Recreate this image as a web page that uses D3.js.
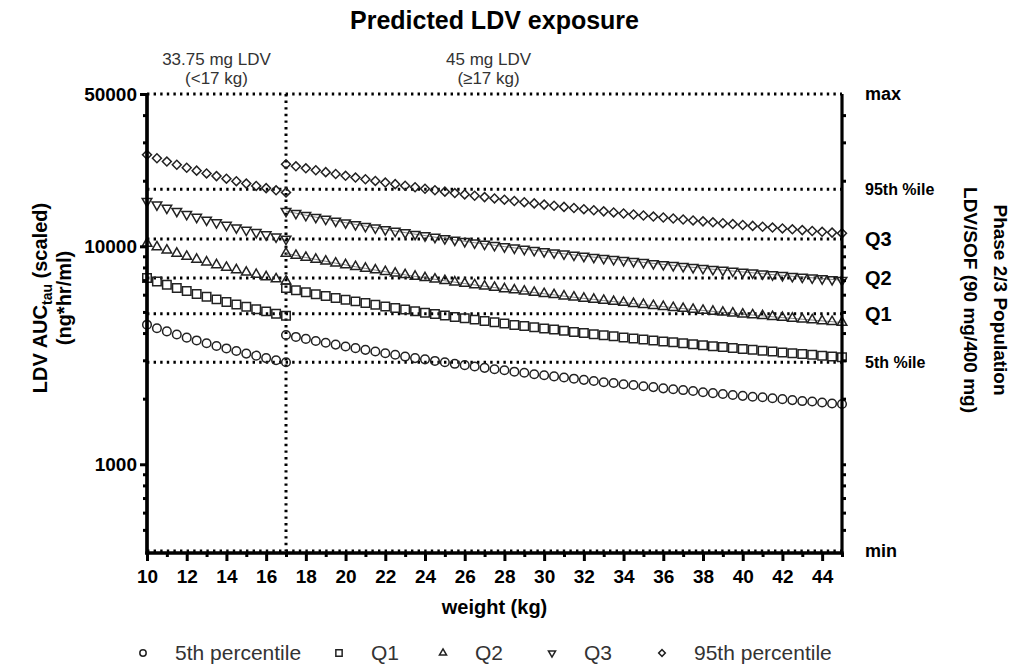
<!DOCTYPE html>
<html>
<head>
<meta charset="utf-8">
<script src="https://cdn.jsdelivr.net/npm/d3@7"></script>
<style>
  body { margin: 0; background: #fff; }
  svg { display: block; font-family: Arial, "Liberation Sans", sans-serif; }
  .axis path, .axis line { stroke: #000; }
  .axis text { font-size: 19px; font-weight: bold; fill: #000; }
  .ref { stroke: #000; stroke-width: 3; stroke-dasharray: 2.4 4.2; fill: none; }
  .mark { fill: none; stroke: #222; stroke-width: 1.5; }
  .trend { fill: none; stroke: #666; stroke-width: 0.8; }
  .dose { font-size: 17px; fill: #333; text-anchor: middle; }
  .reflabel { font-weight: bold; fill: #000; }
  .axtitle { font-weight: bold; font-size: 20px; fill: #000; text-anchor: middle; }
  .legend text { font-size: 21px; fill: #333; }
</style>
</head>
<body>
<div class="chart"></div>
<script>
// weights (kg), dose changes at 17 kg
const weightLow = [10, 10.5, 11, 11.5, 12, 12.5, 13, 13.5, 14, 14.5, 15, 15.5, 16, 16.5, 17]
const weightHigh = [17, 17.5, 18, 18.5, 19, 19.5, 20, 20.5, 21, 21.5, 22, 22.5, 23, 23.5, 24, 24.5,
  25, 25.5, 26, 26.5, 27, 27.5, 28, 28.5, 29, 29.5, 30, 30.5, 31, 31.5, 32, 32.5, 33, 33.5,
  34, 34.5, 35, 35.5, 36, 36.5, 37, 37.5, 38, 38.5, 39, 39.5, 40, 40.5, 41, 41.5, 42, 42.5,
  43, 43.5, 44, 44.5, 45]

// 33.75 mg segment
const p05Low = [4370, 4210, 4070, 3940, 3810, 3700, 3590, 3490, 3400, 3310, 3220, 3150, 3070, 3000, 2940]
const q1Low = [7150, 6890, 6660, 6440, 6240, 6050, 5870, 5710, 5560, 5410, 5280, 5150, 5030, 4910, 4800]
const q2Low = [10300, 9930, 9590, 9280, 8980, 8710, 8460, 8220, 8000, 7800, 7600, 7420, 7240, 7080, 6920]
const q3Low = [16100, 15520, 14990, 14500, 14040, 13620, 13220, 12860, 12510, 12180, 11880, 11590, 11320, 11060, 10810]
const p95Low = [26300, 25360, 24490, 23680, 22940, 22250, 21600, 21000, 20440, 19900, 19400, 18930, 18490, 18070, 17670]

// 45 mg segment
const p05High = [3920, 3840, 3760, 3680, 3610, 3540, 3470, 3410, 3350, 3290, 3230, 3180, 3120, 3070, 3030, 2980,
  2940, 2890, 2850, 2810, 2770, 2730, 2700, 2660, 2630, 2590, 2560, 2530, 2500, 2470, 2440, 2410, 2380, 2360,
  2330, 2310, 2280, 2260, 2230, 2210, 2190, 2170, 2140, 2120, 2100, 2080, 2060, 2040, 2030, 2010, 1990, 1970,
  1950, 1940, 1920, 1900, 1890]
const q1High = [6430, 6290, 6160, 6030, 5920, 5800, 5690, 5590, 5490, 5390, 5300, 5210, 5130, 5040, 4960, 4890,
  4820, 4740, 4680, 4610, 4540, 4480, 4420, 4360, 4310, 4250, 4200, 4150, 4100, 4050, 4000, 3950, 3910, 3870,
  3820, 3780, 3740, 3700, 3660, 3630, 3590, 3550, 3520, 3480, 3450, 3420, 3380, 3350, 3320, 3290, 3260, 3230,
  3210, 3180, 3150, 3120, 3100]
const q2High = [9280, 9080, 8890, 8710, 8540, 8370, 8220, 8060, 7920, 7780, 7650, 7520, 7400, 7280, 7170, 7060,
  6950, 6850, 6750, 6650, 6560, 6470, 6380, 6300, 6220, 6140, 6060, 5990, 5910, 5840, 5770, 5710, 5640, 5580,
  5520, 5460, 5400, 5340, 5290, 5230, 5180, 5130, 5080, 5030, 4980, 4930, 4880, 4840, 4800, 4750, 4710, 4670,
  4630, 4590, 4550, 4510, 4470]
const q3High = [14500, 14190, 13890, 13610, 13340, 13080, 12840, 12600, 12370, 12160, 11950, 11750, 11560, 11370,
  11200, 11020, 10860, 10700, 10540, 10390, 10250, 10110, 9970, 9840, 9710, 9590, 9470, 9350, 9240, 9130, 9020,
  8920, 8820, 8720, 8620, 8530, 8440, 8350, 8260, 8180, 8090, 8010, 7930, 7850, 7780, 7700, 7630, 7560, 7490,
  7420, 7360, 7290, 7230, 7170, 7110, 7050, 6990]
const p95High = [23800, 23290, 22800, 22340, 21900, 21470, 21070, 20680, 20310, 19960, 19620, 19290, 18970, 18670,
  18380, 18090, 17820, 17560, 17310, 17060, 16820, 16590, 16370, 16150, 15940, 15740, 15540, 15350, 15170, 14990,
  14810, 14640, 14470, 14310, 14150, 14000, 13850, 13700, 13560, 13420, 13280, 13150, 13020, 12890, 12770, 12650,
  12530, 12410, 12300, 12190, 12080, 11970, 11870, 11760, 11660, 11560, 11470]

const seriesNames = ['5th percentile', 'Q1', 'Q2', 'Q3', '95th percentile']

// Phase 2/3 reference levels (right axis)
const refLabels = ['max', '95th %ile', 'Q3', 'Q2', 'Q1', '5th %ile', 'min']
const refValues = [50000, 18300, 10800, 7150, 4900, 2940, 400]

const xTickValues = [10, 12, 14, 16, 18, 20, 22, 24, 26, 28, 30, 32, 34, 36, 38, 40, 42, 44]
const xMinorTicks = [11, 13, 15, 17, 19, 21, 23, 25, 27, 29, 31, 33, 35, 37, 39, 41, 43, 45]
const yTickValues = [1000, 10000, 50000]
const yMinorTicks = [500, 600, 700, 800, 900, 2000, 3000, 4000, 5000, 6000, 7000, 8000, 9000, 20000, 30000, 40000]

const doseLabels = [['33.75 mg LDV', '(<17 kg)'], ['45 mg LDV', '(\u226517 kg)']]
const doseBreak = 17

function draw() {
  const dimensions = {
    width: 1013,
    height: 667,
    xStart: 147,
    xEnd: 842,
    yTop: 94,
    yBottom: 553
  }

  const _xScale = d3.scaleLinear()
                    .domain([10, 45])
                    .range([dimensions.xStart, dimensions.xEnd])

  const _yScale = d3.scaleLog()
                    .domain([400, 50000])
                    .range([dimensions.yBottom - 2, dimensions.yTop])

  const _cont = d3.select('.chart')
                  .append('svg')
                  .attr('width', dimensions.width)
                  .attr('height', dimensions.height)

  // title
  _cont.append('text')
       .text('Predicted LDV exposure')
       .attr('x', (dimensions.xStart + dimensions.xEnd) / 2)
       .attr('y', 29)
       .attr('text-anchor', 'middle')
       .style('font-size', '25px')
       .style('font-weight', 'bold')

  // dose annotations
  const doseX = [_xScale(13.5), _xScale(27.2)]
  doseLabels.forEach((lines, i) => {
    lines.forEach((t, j) => {
      _cont.append('text')
           .classed('dose', true)
           .attr('x', doseX[i])
           .attr('y', 65 + j * 19)
           .text(t)
    })
  })

  // reference dotted lines
  const refGroup = _cont.append('g')
  refGroup.selectAll('line')
          .data(refValues)
          .join('line')
          .classed('ref', true)
          .attr('x1', dimensions.xStart)
          .attr('x2', dimensions.xEnd)
          .attr('y1', d => _yScale(d))
          .attr('y2', d => _yScale(d))

  refGroup.append('line')
          .classed('ref', true)
          .attr('x1', _xScale(doseBreak))
          .attr('x2', _xScale(doseBreak))
          .attr('y1', _yScale(50000))
          .attr('y2', _yScale(400))

  // series
  const lows = [p05Low, q1Low, q2Low, q3Low, p95Low]
  const highs = [p05High, q1High, q2High, q3High, p95High]
  const shapes = [d3.symbolCircle, d3.symbolSquare, d3.symbolTriangle, d3.symbolTriangle, d3.symbolSquare]
  const sizes = [58, 72, 40, 40, 40]
  const rotations = [0, 0, 0, 180, 45]

  // faint connecting line seen on Q2 / Q3 (45 mg part)
  const trendLine = d3.line()
                      .x((d, k) => _xScale(weightHigh[k]))
                      .y(d => _yScale(d))
  _cont.append('g')
       .selectAll('path')
       .data([q2High, q3High])
       .join('path')
       .classed('trend', true)
       .attr('d', trendLine)

  const markGroup = _cont.append('g')
  seriesNames.forEach((name, i) => {
    const pts = weightLow.map((w, k) => ({ w: w, v: lows[i][k] }))
                  .concat(weightHigh.map((w, k) => ({ w: w, v: highs[i][k] })))
    const sym = d3.symbol().type(shapes[i]).size(sizes[i])
    markGroup.append('g')
             .selectAll('path')
             .data(pts)
             .join('path')
             .classed('mark', true)
             .attr('d', sym)
             .attr('transform', d => `translate(${_xScale(d.w)},${_yScale(d.v)}) rotate(${rotations[i]})`)
  })

  // left axis
  const yAxisGroup = _cont.append('g')
                          .classed('axis', true)
                          .attr('transform', `translate(${dimensions.xStart},0)`)
  yAxisGroup.call(d3.axisLeft(_yScale).tickValues(yMinorTicks).tickSize(4).tickSizeOuter(0).tickFormat(''))
  yAxisGroup.append('g')
            .call(d3.axisLeft(_yScale).tickValues(yTickValues).tickSize(7).tickPadding(3).tickSizeOuter(0).tickFormat(d3.format('d')))
  yAxisGroup.selectAll('line').attr('stroke-width', 3)
  yAxisGroup.selectAll('path.domain').attr('stroke-width', 3.2).attr('d', `M0,${dimensions.yTop}V${dimensions.yBottom + 1.5}`)

  // right axis
  const rAxisGroup = _cont.append('g')
                          .classed('axis', true)
                          .attr('transform', `translate(${dimensions.xEnd},0)`)
  rAxisGroup.call(d3.axisRight(_yScale).tickValues(yMinorTicks.concat([1000, 10000])).tickSize(4).tickSizeOuter(0).tickFormat(''))
  rAxisGroup.selectAll('line').attr('stroke-width', 3)
  rAxisGroup.selectAll('path.domain').attr('stroke-width', 3.2).attr('d', `M0,${dimensions.yTop}V${dimensions.yBottom + 1.5}`)

  // x axis
  const xAxisGroup = _cont.append('g')
                          .classed('axis', true)
                          .attr('transform', `translate(0,${dimensions.yBottom})`)
  xAxisGroup.call(d3.axisBottom(_xScale).tickValues(xMinorTicks).tickSize(4).tickSizeOuter(0).tickFormat(''))
  xAxisGroup.append('g')
            .call(d3.axisBottom(_xScale).tickValues(xTickValues).tickSize(8).tickPadding(9).tickSizeOuter(0))
  xAxisGroup.selectAll('line').attr('stroke-width', 3)
  xAxisGroup.selectAll('path.domain').attr('stroke-width', 3.2).attr('d', `M${dimensions.xStart - 1.5},0H${dimensions.xEnd + 1.5}`)

  // right-hand reference labels
  const refSizes = { 'max': 18, 'min': 18, '95th %ile': 16, '5th %ile': 16 }
  _cont.append('g')
       .selectAll('text')
       .data(refValues)
       .join('text')
       .classed('reflabel', true)
       .attr('x', dimensions.xEnd + 23)
       .attr('y', d => _yScale(d))
       .attr('dy', '0.35em')
       .style('font-size', (d, i) => (refSizes[refLabels[i]] || 20) + 'px')
       .text((d, i) => refLabels[i])

  // axis titles
  _cont.append('text')
       .text('weight (kg)')
       .classed('axtitle', true)
       .attr('x', (dimensions.xStart + dimensions.xEnd) / 2)
       .attr('y', 614)

  const yTitle = _cont.append('g')
                      .attr('transform', 'translate(47,298) rotate(-90)')
  const t1 = yTitle.append('text').classed('axtitle', true)
  t1.append('tspan').text('LDV AUC')
  t1.append('tspan').text('tau').attr('dy', 5).style('font-size', '14px')
  t1.append('tspan').text(' (scaled)').attr('dy', -5)
  yTitle.append('text').classed('axtitle', true).attr('y', 24).text('(ng*hr/ml)')

  const rTitle = _cont.append('g')
                      .attr('transform', 'translate(994,300) rotate(90)')
  rTitle.append('text').classed('axtitle', true).style('font-size', '19px').text('Phase 2/3 Population')
  rTitle.append('text').classed('axtitle', true).style('font-size', '19px').attr('y', 30).text('LDV/SOF (90 mg/400 mg)')

  // legend
  const legendX = [143, 339, 443, 552, 662]
  const legend = _cont.append('g').classed('legend', true)
  seriesNames.forEach((name, i) => {
    const sym = d3.symbol().type(shapes[i]).size(sizes[i] * 0.55)
    legend.append('path')
          .classed('mark', true)
          .attr('d', sym)
          .attr('transform', `translate(${legendX[i]},653) rotate(${rotations[i]})`)
    legend.append('text')
          .attr('x', legendX[i] + 32)
          .attr('y', 660)
          .text(name)
  })
}

draw()
</script>
</body>
</html>
